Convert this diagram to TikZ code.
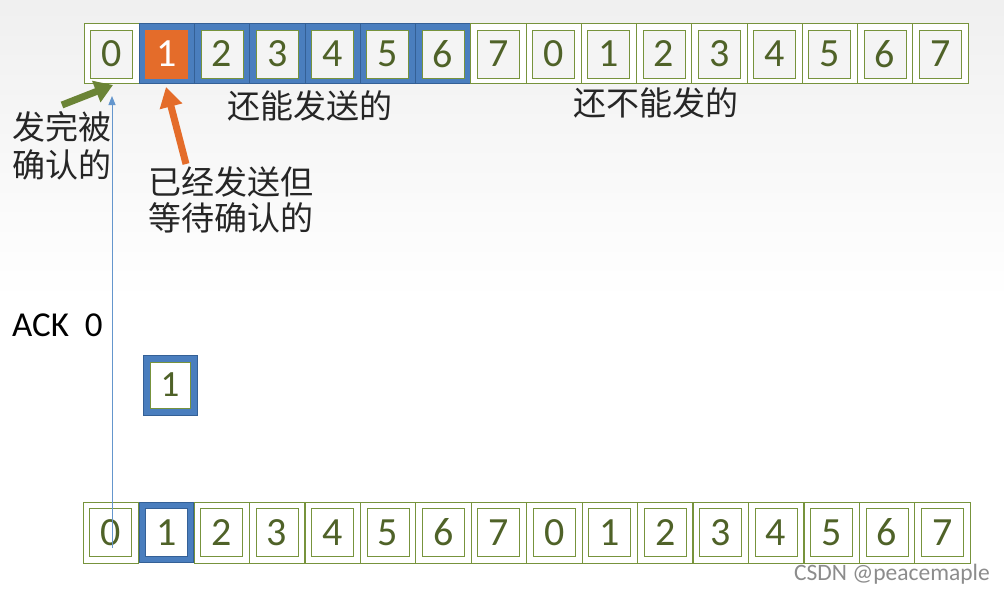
\documentclass[tikz,border=0pt]{standalone}
\usepackage{fontspec}
\setmainfont{Carlito}
\newfontfamily\cjk{Noto Sans CJK SC}
\usetikzlibrary{arrows.meta}
\definecolor{cgreen}{RGB}{119,147,60}
\definecolor{cdig}{RGB}{79,98,40}
\definecolor{cblue}{RGB}{74,126,190}
\definecolor{cbluedk}{RGB}{52,96,150}
\definecolor{corange}{RGB}{228,108,42}
\definecolor{cgray}{RGB}{244,244,244}
\definecolor{cline}{RGB}{100,150,205}
\begin{document}
\begin{tikzpicture}[x=1pt,y=-1pt,
  cell/.style={draw=cgreen,fill=white,line width=0.8pt,minimum width=55.25pt,minimum height=60pt,inner sep=0pt},
  bcell/.style={cell,draw=cbluedk,fill=cblue},
  inbox/.style={draw=cgreen,fill=cgray,line width=0.8pt,minimum width=42pt,minimum height=48pt,inner sep=0pt,
    text=cdig,font=\fontsize{40}{44}\selectfont},
  oinbox/.style={inbox,draw=corange,fill=corange,text=white},
  cjklab/.style={font=\cjk\fontsize{33}{36}\selectfont,text=black!85,inner sep=0pt,align=left},
  fatarrow/.style={line width=7pt,-{Triangle[width=22pt,length=20pt]}}
]
\shade[top color=black!6,bottom color=white] (0,0) rectangle (1004,300);
\fill[white] (0,300) rectangle (1004,594);
\useasboundingbox (0,0) rectangle (1004,594);
% top row
\foreach \i in {0,...,15} {
  \pgfmathtruncatemacro{\d}{mod(\i,8)}
  \pgfmathsetmacro{\cx}{84+55.25*(\i+0.5)}
  \ifnum\i>0 \ifnum\i<7
    \node[bcell] (t\i) at (\cx,53) {};
  \else
    \node[cell] (t\i) at (\cx,53) {};
  \fi\else
    \node[cell] (t\i) at (\cx,53) {};
  \fi
  \ifnum\i=1
    \node[oinbox] (ti\i) at (\cx,54) {\d};
  \else
    \node[inbox] (ti\i) at (\cx,54) {\d};
  \fi
}
% bottom row
\foreach \i in {0,...,15} {
  \pgfmathtruncatemacro{\d}{mod(\i,8)}
  \pgfmathsetmacro{\cx}{83+55.45*(\i+0.5)}
  \ifnum\i=1
    \node[bcell,minimum width=54pt] (b\i) at (\cx,532.5) {};
    \node[inbox,fill=white,draw=cbluedk] (bi\i) at (\cx,532.5) {\d};
  \else
    \node[cell,minimum height=61pt] (b\i) at (\cx,532.5) {};
    \node[inbox,fill=white] (bi\i) at (\cx,532.5) {\d};
  \fi
}
% single box
\node[bcell,minimum width=54pt,minimum height=60pt] (s1) at (170,385) {};
\node[inbox,fill=white,minimum width=40pt,minimum height=46pt,font=\fontsize{37}{40}\selectfont] (si1) at (170,385) {1};
% labels
\node[cjklab,anchor=north west,font=\cjk\fontsize{33}{38}\selectfont] (done) at (12,111) {发完被\\确认的};
\node[cjklab,anchor=north west] (wait) at (148,166) {已经发送但\\等待确认的};
\node[cjklab] (can) at (310,106) {还能发送的};
\node[cjklab] (cannot) at (656,103) {还不能发的};
\node[font=\fontsize{35}{40}\selectfont,anchor=west,inner sep=0pt] (ack) at (12,325) {ACK\ \ 0};
\node[font=\fontsize{23.5}{26}\selectfont,text=black!45,anchor=east,inner sep=0pt] (wm) at (990,574) {CSDN @peacemaple};
% arrows
\coordinate (gA) at (62,105);
\coordinate (gB) at (113,85);
\draw[fatarrow,draw=cgreen!90!black,fill=cgreen!90!black,-{Triangle[width=22pt,length=18pt]}] (gA) -- (gB);
\coordinate (oA) at (186,164);
\coordinate (oB) at (166,87);
\draw[fatarrow,draw=corange,fill=corange] (oA) -- (oB);
\coordinate (ackS) at (112,548);
\coordinate (ackE) at (112,96);
\draw[cline,line width=1pt,-{Triangle[width=7pt,length=9pt]}] (ackS) -- (ackE);
\end{tikzpicture}
\end{document}
